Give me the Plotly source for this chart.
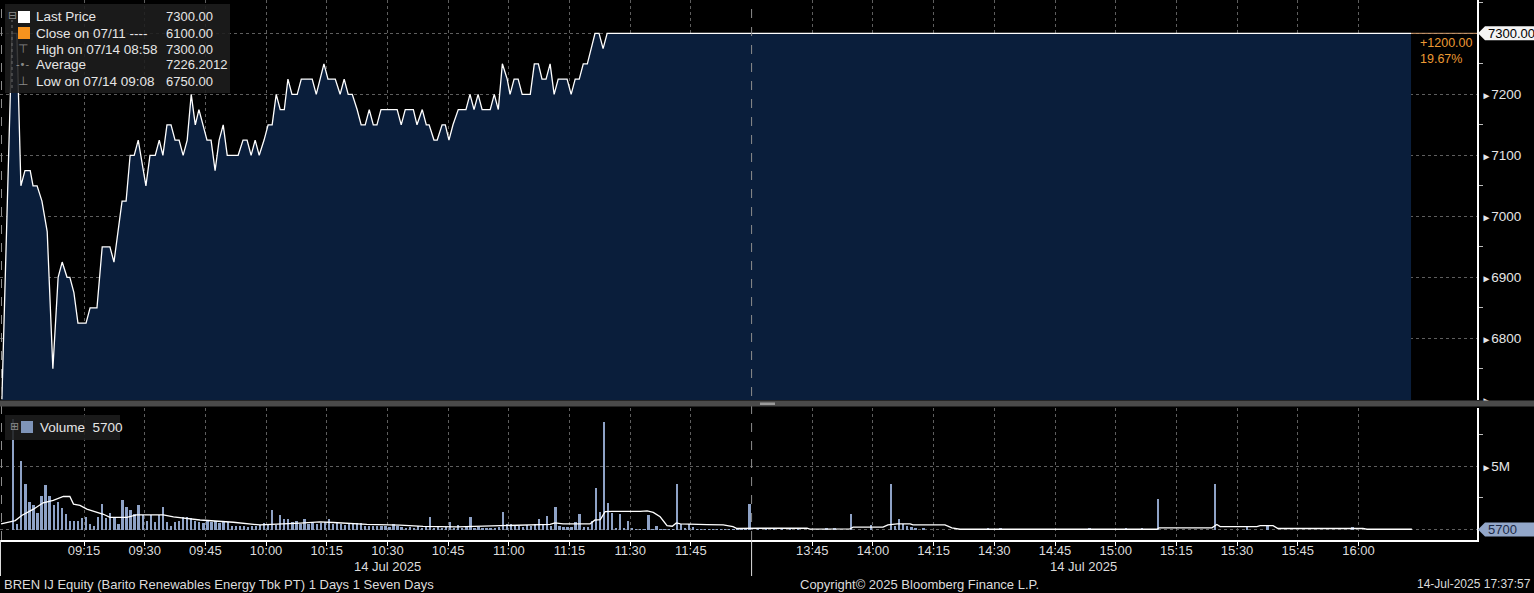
import plotly.graph_objects as go
import pandas as pd

DAY = "2025-07-14"

# ---------------- data ----------------
# price vertices: minutes after 09:00 and price
price_min = [-5.3, -2.8, -1.6, -0.6, 0.4, 1.7, 2.4, 3.4, 4.6, 5.9, 7.3, 8.6, 9.6, 10.8, 11.5, 12.5, 13.5,
             15.5, 16.5, 18.2, 19.5, 21.4, 22.4, 24.4, 25.4, 26.4, 27.4, 28.4, 30.3, 31.3, 32.6, 33.6,
             34.5, 35.5, 36.5, 37.5, 38.5, 39.5, 40.5, 41.5, 42.5, 43.4, 44.4, 45.4, 46.4, 47.4, 48.4,
             49.4, 50.4, 53.1, 54.3, 55.3, 56.3, 57.3, 58.3, 59.5, 60.5, 61.5, 62.5, 63.5, 64.5, 65.4,
             66.4, 67.7, 68.7, 71.4, 72.4, 74.3, 75.3, 77.1, 78.3, 79.3, 80.3, 81.3, 82.5, 83.5, 84.5,
             85.5, 86.5, 87.4, 88.4, 92.4, 93.4, 94.4, 96.4, 97.3, 98.6, 99.6, 100.3, 101.5, 102.3,
             103.5, 104.3, 105.2, 106.2, 107.5, 109.4, 110.4, 111.4, 112.4, 113.4, 115.4, 116.4, 117.4,
             118.4, 119.6, 120.3, 121.3, 122.3, 123.3, 125.3, 126.3, 127.3, 128.2, 129.2, 130.2, 131.2,
             132.2, 134.4, 135.4, 136.4, 137.4, 138.4, 139.4, 141.3, 142.3, 143.3, 144.3, 433.0]
price_val = [6700, 7300, 7300, 7050, 7075, 7075, 7050, 7050, 7025, 6975, 6750, 6900, 6925, 6900, 6900, 6875, 6825,
             6825, 6850, 6850, 6950, 6950, 6925, 7025, 7025, 7100, 7100, 7125, 7050, 7100, 7100, 7125,
             7100, 7150, 7150, 7125, 7125, 7100, 7125, 7200, 7150, 7175, 7150, 7125, 7125, 7075, 7125,
             7150, 7100, 7100, 7125, 7125, 7100, 7125, 7100, 7125, 7150, 7150, 7200, 7175, 7175, 7225,
             7200, 7200, 7225, 7225, 7200, 7250, 7225, 7225, 7200, 7225, 7200, 7200, 7175, 7150, 7150,
             7175, 7150, 7150, 7175, 7175, 7150, 7175, 7175, 7150, 7175, 7150, 7150, 7125, 7125,
             7150, 7150, 7125, 7150, 7175, 7175, 7200, 7175, 7200, 7175, 7175, 7200, 7175,
             7250, 7225, 7200, 7225, 7225, 7200, 7200, 7250, 7250, 7225, 7225, 7250, 7200,
             7225, 7225, 7200, 7225, 7225, 7250, 7250, 7300, 7300, 7275, 7300, 7300]

# morning 1-minute volumes (millions) starting 08:57
vol_am_start = "08:57"
vol_am = [8.7, 0.45, 5.4, 3.6, 2.2, 1.9, 1.3, 2.6, 3.5, 2.6, 1.9, 2.2, 1.7, 1.25, 0.7, 0.7, 0.7, 0.9, 0.95, 0.45,
          0.3, 0.95, 2.0, 0.9, 1.3, 1.0, 0.45, 2.3, 1.8, 1.5, 1.2, 1.9, 1.15, 0.7, 1.15, 0.6, 1.15, 1.8, 0.6, 0.3,
          0.6, 0.7, 1.0, 1.0, 0.9, 0.7, 0.6, 0.5, 0.7, 0.6, 0.7, 0.5, 0.6, 0.6, 0.3, 0.25, 0.3, 0.25, 0.2, 0.3,
          0.25, 0.35, 0.5, 0.35, 1.5, 0.35, 1.15, 0.8, 0.8, 0.6, 0.7, 0.45, 0.85, 0.45, 0.55, 0.45, 0.55, 0.6, 0.85, 0.4,
          0.55, 0.45, 0.35, 0.45, 0.4, 0.5, 0.5, 0.3, 0.25, 0.25, 0.3, 0.25, 0.3, 0.2, 0.45, 0.3, 0.2, 0.15, 0.2, 0.15,
          0.3, 0.15, 0.2, 0.95, 0.15, 0.2, 0.15, 0.2, 0.6, 0.15, 0.35, 0.15, 0.2, 0.95, 0.15, 0.2, 0.15, 0.1, 0.15, 0.1,
          0.2, 1.4, 0.45, 0.45, 0.3, 0.3, 0.2, 0.35, 0.25, 0.45, 0.8, 0.45, 1.1, 0.3, 1.8, 0.25, 0.2, 0.2, 0.2, 0.6,
          1.2, 0.2, 0.2, 0.7, 3.3, 1.4, 8.5, 2.1, 1.3, 0.15, 1.2, 0.05, 0.65, 0.05, 0.03, 0.03, 0.03, 1.15, 0.03, 0.3,
          0.03, 0.03, 0.03, 0.03, 3.6, 0.45, 0.05, 0.45, 0.2, 0.03, 0.03, 0.03, 0.03, 0.03, 0.03, 0.03, 0.03, 0.03,
          0.03, 0.03, 0.03, 0.03, 2.0]
# afternoon minutes with trades (millions)
vol_pm_times = ["13:31", "13:33", "13:35", "13:37", "13:39", "13:41", "13:48", "13:50", "13:54", "13:59",
                "14:04", "14:05", "14:06", "14:07", "14:08", "14:09", "14:10", "14:12", "14:28", "14:31",
                "14:53", "15:02", "15:06", "15:10", "15:24", "15:32", "15:37", "15:58", "16:12"]
vol_pm = [0.05, 0.08, 0.05, 0.08, 0.05, 0.05, 0.05, 0.05, 1.22, 0.39,
          3.6, 0.3, 0.86, 0.44, 0.3, 0.23, 0.1, 0.08, 0.13, 0.13,
          0.13, 0.05, 0.08, 2.4, 3.6, 0.18, 0.3, 0.18, 0.0057]

# white volume average line: minutes after 09:00, millions
vma_min = [-5.5, -2.0, -0.4, 2.5, 4.9, 7.4, 9.9, 11.5, 12.4, 14.0, 15.7, 18.1, 19.8, 21.4, 25.6, 28.0, 34.6,
           37.1, 43.7, 51.9, 58.5, 68.4, 73.3, 76.6, 84.9, 93.1, 98.8, 107.2, 115.4, 117.9, 130.2, 131.4,
           133.4, 140.1, 141.3, 142.6, 143.8, 145.5, 152.5, 154.2, 155.7, 157.4, 159.1, 160.4, 161.4, 162.4,
           169.0, 173.0, 175.4, 176.4, 272.1, 283.7, 284.4, 294.3, 295.1, 302.5, 303.7, 306.0, 309.2, 309.9,
           317.8, 319.5, 321.5, 370.2, 370.7, 383.8, 385.0, 385.8, 394.9, 395.7, 398.9, 400.1, 421.1, 422.1, 433.2]
vma_val = [0.44, 0.7, 1.1, 1.6, 2.1, 2.3, 2.6, 2.6, 2.0, 1.9, 1.6, 1.4, 1.2, 0.96, 0.96, 1.15, 1.15,
           1.0, 0.75, 0.57, 0.36, 0.5, 0.6, 0.55, 0.4, 0.35, 0.25, 0.2, 0.25, 0.3, 0.4, 0.52,
           0.45, 0.45, 0.75, 0.78, 1.4, 1.43, 1.43, 1.46, 1.35, 1.0, 0.31, 0.26, 0.52, 0.44,
           0.39, 0.36, 0.23, 0.08, 0.1, 0.1, 0.03, 0.05, 0.18, 0.18, 0.36, 0.44, 0.44, 0.36,
           0.36, 0.13, 0.02, 0.02, 0.13, 0.13, 0.39, 0.23, 0.23, 0.3, 0.3, 0.08, 0.08, 0.02, 0.02]

x_tick_labels = ["09:15", "09:30", "09:45", "10:00", "10:15", "10:30", "10:45", "11:00", "11:15", "11:30",
                 "11:45", "13:45", "14:00", "14:15", "14:30", "14:45", "15:00", "15:15", "15:30", "15:45", "16:00"]
price_ticks = [6700, 6800, 6900, 7000, 7100, 7200, 7300]
price_minor = [6750, 6850, 6950, 7050, 7150, 7250, 7350]
vol_ticks = [0, 5_000_000]
vol_minor = [2_500_000, 7_500_000]

last_price = 7300.00
prev_close = 6100.00
high_price = 7300.00
avg_price = 7226.2012
low_price = 6750.00
last_volume = 5700

ticker = "BREN IJ Equity (Barito Renewables Energy Tbk PT) 1 Days 1 Seven Days"
copyright_txt = "Copyright\u00a9 2025 Bloomberg Finance L.P."
stamp = "14-Jul-2025 17:37:57"
date_label = "14 Jul 2025"

# ---------------- build ----------------
base = pd.Timestamp(f"{DAY} 09:00")
px_x = [base + pd.Timedelta(minutes=m) for m in price_min]
vx_am = list(pd.date_range(f"{DAY} {vol_am_start}", periods=len(vol_am), freq="1min"))
vx_pm = [pd.Timestamp(f"{DAY} {t}") for t in vol_pm_times]
vol_x = vx_am + vx_pm
vol_y = [v * 1e6 for v in vol_am] + [v * 1e6 for v in vol_pm]
vol_y[-1] = last_volume
vma_x = [base + pd.Timedelta(minutes=m) for m in vma_min]
vma_y = [v * 1e6 for v in vma_val]

W, H = 1534, 593
ML, MR, MT, MB = 0, 57, 0, 53
PW, PH = W - ML - MR, H - MT - MB


def fx(px):
    return px / PW


def fy(py):
    return 1 - py / PH


x_range = [f"{DAY} 08:54:14", f"{DAY} 16:29:18"]
breaks = [dict(bounds=[f"{DAY} 12:00", f"{DAY} 13:30"])]
tickvals_x = [f"{DAY} {t}" for t in x_tick_labels]

GRID = "#5e5e5e"
FONT = "Liberation Sans"
TXT = "#e6e6e6"
FILL = "#0a1e3b"
BAR = "#8ea2c6"
ORANGE = "#ec9a34"

fig = go.Figure()
fig.add_trace(go.Scatter(x=px_x, y=price_val, mode="lines", line=dict(color="white", width=1.3),
                         fill="tozeroy", fillcolor=FILL, xaxis="x", yaxis="y", hoverinfo="skip"))
fig.add_trace(go.Bar(x=vol_x, y=vol_y, marker=dict(color=BAR, line=dict(width=0)), width=34000,
                     xperiod=60000, xperiodalignment="middle", xaxis="x2", yaxis="y2", hoverinfo="skip"))
fig.add_trace(go.Scatter(x=vma_x, y=vma_y, mode="lines", line=dict(color="white", width=1.3),
                         xaxis="x2", yaxis="y2", hoverinfo="skip"))

price_dom = [fy(400), 1]
vol_dom = [0, fy(408)]
p_top = 7300 + 33.3 / 61 * 100
p_bot = 7300 - (400 - 33.3) / 61 * 100
v_per_px = 5e6 / 63.5
v_top = (529.5 - 408) * v_per_px
v_bot = -(540 - 529.5) * v_per_px

arrow = '<span style="font-size:10px">\u25ba</span>'
price_text = []
for v in price_ticks:
    if v == 7300:
        price_text.append("")
    elif v == 6700:
        price_text.append(arrow)
    else:
        price_text.append(arrow + str(v))
vol_text = ["", arrow + "5M"]

common_x = dict(type="date", range=x_range, rangebreaks=breaks, tickvals=tickvals_x, showgrid=True,
                gridcolor=GRID, griddash="dot", gridwidth=1, zeroline=False, automargin=False)
fig.update_layout(
    width=W, height=H, margin=dict(l=ML, r=MR, t=MT, b=MB),
    paper_bgcolor="black", plot_bgcolor="black", showlegend=False,
    font=dict(family=FONT, color=TXT, size=13),
    xaxis=dict(domain=[0, 1], anchor="y", showticklabels=False, ticks="", showline=False, **common_x),
    xaxis2=dict(domain=[0, 1], anchor="y2", matches="x", showticklabels=True, tickformat="%H:%M",
                ticks="outside", ticklen=4, tickcolor="white", showline=True, linecolor="white", linewidth=2,
                ticklabelstandoff=-7,
                tickfont=dict(size=13, color="#dcdcdc", family=FONT), **common_x),
    yaxis=dict(domain=price_dom, anchor="x", side="right", range=[p_bot, p_top], tickvals=price_ticks,
               ticktext=price_text, ticks="", showline=True, linecolor="white", linewidth=1.5,
               showgrid=True, gridcolor=GRID, griddash="dot", zeroline=False, automargin=False,
               tickfont=dict(size=13.5, color="#e6e6e6", family=FONT),
               minor=dict(tickvals=price_minor, ticks="outside", ticklen=4, tickcolor="#bbbbbb", showgrid=False)),
    yaxis2=dict(domain=vol_dom, anchor="x2", side="right", range=[v_bot, v_top], tickvals=vol_ticks,
                ticktext=vol_text, ticks="", showline=True, linecolor="white", linewidth=1.5,
                showgrid=True, gridcolor=GRID, griddash="dot", zeroline=False, automargin=False,
                tickfont=dict(size=13.5, color="#e6e6e6", family=FONT),
                minor=dict(tickvals=vol_minor, ticks="outside", ticklen=4, tickcolor="#bbbbbb", showgrid=False)),
    bargap=0,
)

shapes = []
annots = []

# session separator and left edge separator
sep_t = f"{DAY} 13:30"
shapes.append(dict(type="line", xref="x", yref="paper", x0=sep_t, x1=sep_t, y0=0, y1=1,
                   line=dict(color="#8c8c8c", width=1, dash="dash"), layer="above"))
shapes.append(dict(type="line", xref="x", yref="paper", x0=sep_t, x1=sep_t, y0=fy(576), y1=0,
                   line=dict(color="#dddddd", width=1)))
shapes.append(dict(type="line", xref="paper", yref="paper", x0=fx(1.5), x1=fx(1.5), y0=0, y1=1,
                   line=dict(color="#8c8c8c", width=1, dash="dash"), layer="above"))
shapes.append(dict(type="line", xref="paper", yref="paper", x0=fx(0.5), x1=fx(0.5), y0=fy(576), y1=0,
                   line=dict(color="#dddddd", width=1)))

# panel separator bar
shapes.append(dict(type="rect", xref="paper", yref="paper", x0=0, x1=W / PW, y0=fy(406.5), y1=fy(400.5),
                   fillcolor="#4a4a4a", line=dict(width=0), layer="above"))
shapes.append(dict(type="rect", xref="paper", yref="paper", x0=fx(760), x1=fx(775), y0=fy(405), y1=fy(402.5),
                   fillcolor="#9a9a9a", line=dict(width=0), layer="above"))

# orange line from last point to axis
shapes.append(dict(type="line", xref="x", yref="y", x0=px_x[-1], x1=x_range[1], y0=last_price, y1=last_price,
                   line=dict(color="#d8a070", width=1)))

# last price tag
shapes.append(dict(type="path", xref="paper", yref="y", xsizemode="pixel", ysizemode="pixel", xanchor=1,
                   yanchor=last_price, path="M1,0 L8,7 L57,7 L57,-7 L8,-7 Z", fillcolor="#f4f4f4",
                   line=dict(width=0), layer="above"))
annots.append(dict(xref="paper", yref="y", x=1, y=last_price, xshift=9, xanchor="left", yanchor="middle",
                   text=f"{last_price:.2f}", showarrow=False, font=dict(color="black", size=13, family=FONT)))
# volume tag
shapes.append(dict(type="path", xref="paper", yref="y2", xsizemode="pixel", ysizemode="pixel", xanchor=1,
                   yanchor=last_volume, path="M1,0 L8,7 L57,7 L57,-7 L8,-7 Z", fillcolor="#93a7c9",
                   line=dict(width=0), layer="above"))
annots.append(dict(xref="paper", yref="y2", x=1, y=last_volume, xshift=9, xanchor="left", yanchor="middle",
                   text=f"{last_volume}", showarrow=False, font=dict(color="#1b2946", size=13, family=FONT)))

# change text
chg = last_price - prev_close
pct = chg / prev_close * 100
annots.append(dict(xref="paper", yref="y", x=fx(1418), y=last_price, yshift=-1, xanchor="left", yanchor="top",
                   align="left", text=f"+{chg:.2f}<br>{pct:.2f}%", showarrow=False,
                   font=dict(color=ORANGE, size=12.5, family=FONT)))

# legend box (price)
shapes.append(dict(type="rect", xref="paper", yref="paper", x0=fx(5), x1=fx(230), y0=fy(93), y1=fy(4),
                   fillcolor="rgba(30,30,30,0.88)", line=dict(width=0), layer="above"))
shapes.append(dict(type="line", xref="paper", yref="paper", x0=fx(12), x1=fx(12), y0=fy(88), y1=fy(20),
                   line=dict(color="#6a6a6a", width=1, dash="dot"), layer="above"))
shapes.append(dict(type="rect", xref="paper", yref="paper", x0=fx(18), x1=fx(30), y0=fy(23), y1=fy(11),
                   fillcolor="white", line=dict(width=0), layer="above"))
shapes.append(dict(type="rect", xref="paper", yref="paper", x0=fx(18), x1=fx(30), y0=fy(39), y1=fy(27),
                   fillcolor="#f7931e", line=dict(width=0), layer="above"))

rows = [("Last Price", f"{last_price:.2f}"),
        ("Close on 07/11 ----", f"{prev_close:.2f}"),
        ("High on 07/14 08:58", f"{high_price:.2f}"),
        ("Average", f"{avg_price:.4f}"),
        ("Low on 07/14 09:08", f"{low_price:.2f}")]
row_y = [17, 33, 49, 65, 81]
for (lab, val), ry in zip(rows, row_y):
    annots.append(dict(xref="paper", yref="paper", x=fx(34), y=fy(ry), xanchor="left", yanchor="middle",
                       text=lab, showarrow=False, font=dict(size=13.5, color=TXT, family=FONT)))
    annots.append(dict(xref="paper", yref="paper", x=fx(164), y=fy(ry), xanchor="left", yanchor="middle",
                       text=val, showarrow=False, font=dict(size=13, color=TXT, family=FONT)))
icons = [("\u229f", 12, 15, 11), ("\u22a4", 23, 49, 12), ("-\u2022-", 23, 65, 10), ("\u22a5", 23, 81, 12)]
for ch, ix, iy, sz in icons:
    annots.append(dict(xref="paper", yref="paper", x=fx(ix), y=fy(iy), xanchor="center", yanchor="middle",
                       text=ch, showarrow=False, font=dict(size=sz, color="#8a8a8a", family="DejaVu Sans")))

# volume legend
shapes.append(dict(type="rect", xref="paper", yref="paper", x0=fx(5), x1=fx(120), y0=fy(440), y1=fy(415),
                   fillcolor="rgba(30,30,30,0.88)", line=dict(width=0), layer="above"))
shapes.append(dict(type="rect", xref="paper", yref="paper", x0=fx(21), x1=fx(33), y0=fy(433), y1=fy(421),
                   fillcolor="#7f94b8", line=dict(width=0), layer="above"))
annots.append(dict(xref="paper", yref="paper", x=fx(14), y=fy(426), xanchor="center", yanchor="middle",
                   text="\u229e", showarrow=False, font=dict(size=11, color="#8a8a8a", family="DejaVu Sans")))
annots.append(dict(xref="paper", yref="paper", x=fx(38), y=fy(427), xanchor="left", yanchor="middle",
                   text=f"Volume  {last_volume}", showarrow=False, font=dict(size=13.5, color=TXT, family=FONT)))

# date labels under each session
for t in ["10:30", "14:52"]:
    annots.append(dict(xref="x2", yref="paper", x=f"{DAY} {t}", y=fy(566), xanchor="center", yanchor="middle",
                       text=date_label, showarrow=False, font=dict(size=13, color="#dcdcdc", family=FONT)))

# footer
annots.append(dict(xref="paper", yref="paper", x=fx(2), y=fy(584), xanchor="left", yanchor="middle",
                   text=ticker, showarrow=False, font=dict(size=13, color="#dcdcdc", family=FONT)))
annots.append(dict(xref="paper", yref="paper", x=fx(919), y=fy(584), xanchor="center", yanchor="middle",
                   text=copyright_txt, showarrow=False, font=dict(size=13, color="#dcdcdc", family=FONT)))
annots.append(dict(xref="paper", yref="paper", x=fx(1533), y=fy(584), xanchor="right", yanchor="middle",
                   text=stamp, showarrow=False, font=dict(size=12, color="#dcdcdc", family=FONT)))

fig.update_layout(shapes=shapes, annotations=annots)
fig.write_html("out.html", config={"displayModeBar": False},
               post_script="document.body.style.margin='0px';document.body.style.overflow='hidden';")
